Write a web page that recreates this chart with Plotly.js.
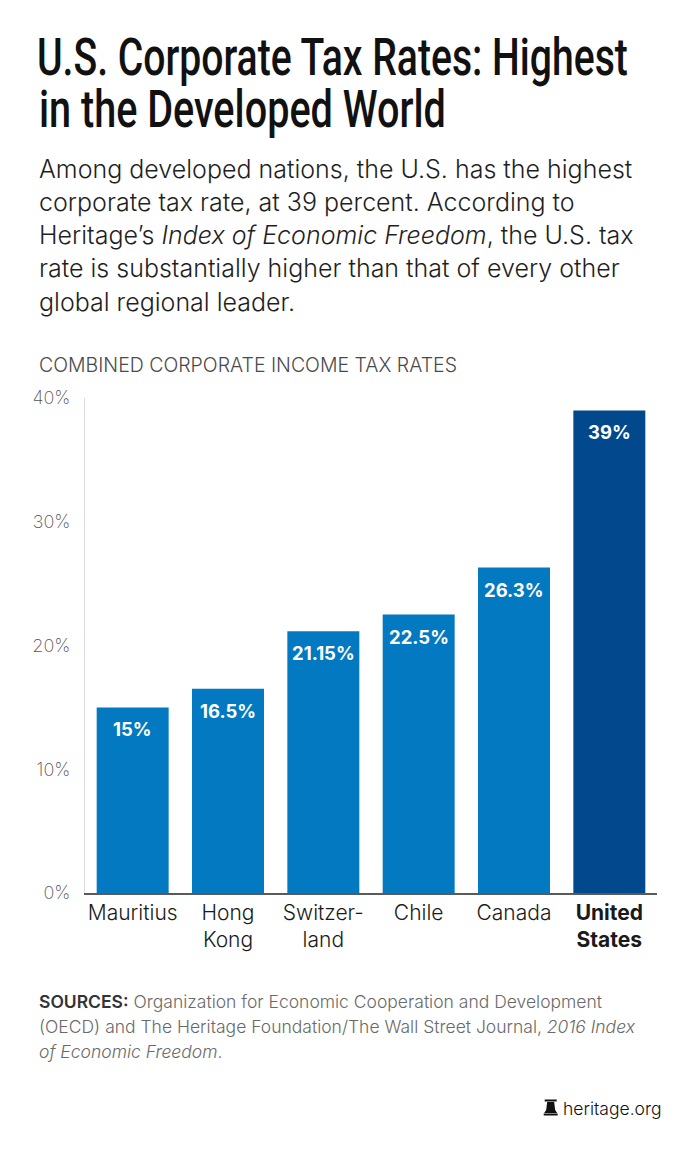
<!DOCTYPE html>
<html>
<head>
<meta charset="utf-8">
<script src="https://cdn.plot.ly/plotly-3.0.1.min.js"></script>
<style>
  html, body { margin: 0; padding: 0; background: #ffffff; }
  #chart { width: 700px; height: 1155px; }
</style>
</head>
<body>
<div id="chart"></div>
<script>
// Combined corporate income tax rates, regional leaders
const categories = ['Mauritius', 'Hong Kong', 'Switzerland', 'Chile', 'Canada', 'United States'];
const tickLabels = ['Mauritius', 'Hong<br>Kong', 'Switzer-<br>land', 'Chile', 'Canada', '<b>United<br>States</b>'];
const rates = [15, 16.5, 21.15, 22.5, 26.3, 39];
const rateLabels = ['15%', '16.5%', '21.15%', '22.5%', '26.3%', '39%'];
const yTickValues = [0, 10, 20, 30, 40];
const yTickLabels = ['0%', '10%', '20%', '30%', '40%'];

const TITLE_1 = 'U.S. Corporate Tax Rates: Highest';
const TITLE_2 = 'in the Developed World';

const BLUE = '#0279c1';
const DARK_BLUE = '#02488c';
const barColors = categories.map(c => c === 'United States' ? DARK_BLUE : BLUE);

const BODY_FONT = 'Inter, Lato, sans-serif';
const TITLE_FONT = 'Roboto, "Noto Sans", sans-serif';

// Page geometry (pixels) used to place text around the plot area
const W = 700, H = 1155;
const M = { l: 85, r: 42.6, t: 398, b: 262 };
const plotW = W - M.l - M.r, plotH = H - M.t - M.b;
const px = x => (x - M.l) / plotW;
const py = y => (H - M.b - y) / plotH;

function textLine(text, x, y, size, opts) {
  opts = opts || {};
  return {
    xref: 'paper', yref: 'paper', x: px(x), y: py(y),
    xanchor: 'left', yanchor: 'middle', align: 'left',
    text: text, showarrow: false,
    font: { family: opts.family || BODY_FONT, size: size, color: opts.color || '#1a1a1a', weight: opts.weight || 400 }
  };
}

const subtitleLines = [
  'Among developed nations, the U.S. has the highest',
  'corporate tax rate, at 39 percent. According to',
  'Heritage\u2019s <i>Index of Economic Freedom</i>, the U.S. tax',
  'rate is substantially higher than that of every other',
  'global regional leader.'
];
const sourceLines = [
  '<span style="color:#333333;font-weight:600">SOURCES:</span> Organization for Economic Cooperation and Development',
  '(OECD) and The Heritage Foundation/The Wall Street Journal, <i>2016 Index</i>',
  '<i>of Economic Freedom</i>.'
];

const annotations = [];

// second headline row
annotations.push(textLine(TITLE_2, 37, 109.5, 52, { family: TITLE_FONT, color: '#111111', weight: 500 }));

subtitleLines.forEach((t, i) => {
  annotations.push(textLine(t, 37, 168.5 + i * 33.3, 25, { color: '#1f1f1f', weight: 350 }));
});

annotations.push(textLine('COMBINED CORPORATE INCOME TAX RATES', 37, 365, 19.5, { color: '#4a4a4a', weight: 300 }));

sourceLines.forEach((t, i) => {
  annotations.push(textLine(t, 37, 1001 + i * 25, 17.5, { color: '#6a6a6a', weight: 300 }));
});

annotations.push(textLine('heritage.org', 561, 1108, 17.5, { color: '#111111', weight: 300 }));

// value labels inside the top of each bar
categories.forEach((c, i) => {
  annotations.push({
    xref: 'x', yref: 'y', x: c, y: rates[i],
    xanchor: 'center', yanchor: 'middle', yshift: -22,
    text: rateLabels[i], showarrow: false,
    font: { family: BODY_FONT, size: 18.5, color: '#ffffff', weight: 700 }
  });
});

// small bell mark beside the web address
const bellShapes = [
  { type: 'rect', xref: 'paper', yref: 'paper', x0: px(545), x1: px(557), y0: py(1101.5), y1: py(1099.5),
    fillcolor: '#111111', line: { width: 0 } },
  { type: 'path', xref: 'paper', yref: 'paper',
    path: 'M ' + px(547.5) + ',' + py(1102) + ' L ' + px(554.5) + ',' + py(1102) +
          ' L ' + px(555.5) + ',' + py(1110) + ' L ' + px(557.5) + ',' + py(1113) +
          ' L ' + px(544.5) + ',' + py(1113) + ' L ' + px(546.5) + ',' + py(1110) + ' Z',
    fillcolor: '#111111', line: { width: 0 } },
  { type: 'rect', xref: 'paper', yref: 'paper', x0: px(544), x1: px(558), y0: py(1115.5), y1: py(1113.5),
    fillcolor: '#111111', line: { width: 0 } }
];

const trace = {
  type: 'bar',
  x: categories,
  y: rates,
  marker: { color: barColors, line: { width: 0 } },
  hoverinfo: 'skip'
};

const layout = {
  width: W, height: H,
  margin: M,
  paper_bgcolor: '#ffffff', plot_bgcolor: '#ffffff',
  showlegend: false,
  bargap: 0.245,
  title: {
    text: TITLE_1,
    font: { family: TITLE_FONT, size: 52, color: '#111111', weight: 500 },
    xref: 'container', yref: 'container',
    x: 37 / W, xanchor: 'left',
    y: 1 - 57 / H, yanchor: 'middle'
  },
  xaxis: {
    type: 'category',
    tickvals: categories,
    ticktext: tickLabels,
    showline: true, linecolor: '#5a5a5a', linewidth: 1.5,
    showgrid: false, zeroline: false,
    ticks: '',
    tickfont: { family: BODY_FONT, size: 21, color: '#1a1a1a', weight: 350 },
    range: [-0.5, 5.5],
    fixedrange: true
  },
  yaxis: {
    range: [0, 40],
    tickvals: yTickValues,
    ticktext: yTickLabels,
    showline: true, linecolor: '#dcdcdc', linewidth: 1,
    showgrid: false, zeroline: false,
    ticks: '',
    ticklabelstandoff: 10,
    tickfont: { family: BODY_FONT, size: 18, color: '#555555', weight: 200 },
    fixedrange: true
  },
  annotations: annotations,
  shapes: bellShapes
};

// The headline face is a compressed grotesque: squeeze the two headline rows
// horizontally (anchored at their left edge) to their set width, as live text.
function condense(gd, selector, text, width) {
  gd.querySelectorAll(selector).forEach(el => {
    if (el.textContent !== text) return;
    const natural = el.getComputedTextLength();
    if (!natural) return;
    const s = width / natural;
    const x0 = parseFloat(el.getAttribute('x')) || 0;
    const prev = el.getAttribute('transform') || '';
    el.setAttribute('transform',
      'translate(' + x0 + ',0) scale(' + s + ',1) translate(' + (-x0) + ',0) ' + prev);
  });
}

Plotly.newPlot('chart', [trace], layout, { displayModeBar: false, staticPlot: true }).then(gd => {
  condense(gd, 'text.gtitle', TITLE_1, 591);
  condense(gd, 'text.annotation-text', TITLE_2, 407);
});
</script>
</body>
</html>
